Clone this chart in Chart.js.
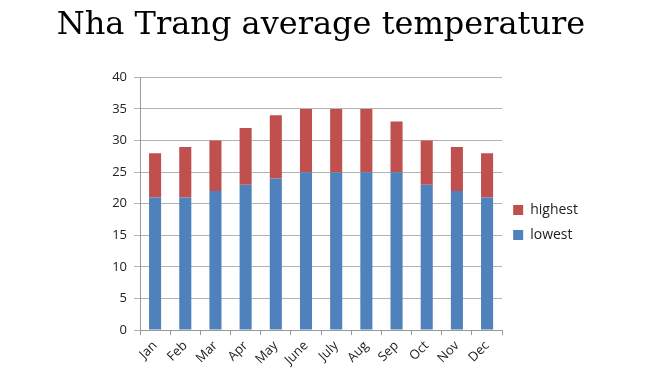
<!DOCTYPE html>
<html>
<head>
<meta charset="utf-8">
<script src="https://cdn.jsdelivr.net/npm/chart.js@4"></script>
<style>
  html, body { margin: 0; padding: 0; background: #fff; }
  #wrap { width: 653px; height: 374px; }
</style>
</head>
<body>
<div id="wrap"><canvas id="tempChart" width="653" height="374"></canvas></div>
<script>
// data
const months = ['Jan', 'Feb', 'Mar', 'Apr', 'May', 'June', 'July', 'Aug', 'Sep', 'Oct', 'Nov', 'Dec'];
const lowest = [21, 21, 22, 23, 24, 25, 25, 25, 25, 23, 22, 21];
// stacked on top of lowest (highest - lowest)
const highest = [7, 8, 8, 9, 10, 10, 10, 10, 8, 7, 7, 7];
const yTicks = [0, 5, 10, 15, 20, 25, 30, 35, 40];

const axisFont = { family: "'Open Sans', 'Liberation Sans', sans-serif", size: 13 };

// push the legend down a bit, like the original
const legendShift = {
    id: 'legendShift',
    afterLayout(chart) {
        chart.legend.top += 34;
        chart.legend.bottom += 34;
    }
};

const ctx = document.getElementById('tempChart').getContext('2d');
new Chart(ctx, {
    type: 'bar',
    data: {
        labels: months,
        datasets: [{
            label: 'lowest',
            data: lowest,
            backgroundColor: '#4F81BD',
            categoryPercentage: 1,
            barPercentage: 0.4
        }, {
            label: 'highest',
            data: highest,
            backgroundColor: '#C0504D',
            categoryPercentage: 1,
            barPercentage: 0.4
        }]
    },
    options: {
        responsive: false,
        animation: false,
        layout: {
            padding: { left: 54, right: 65, top: 6, bottom: 3 }
        },
        plugins: {
            title: {
                display: true,
                text: 'Nha Trang average temperature',
                color: '#000',
                font: { family: "'DejaVu Serif', serif", size: 32, weight: 'normal' },
                padding: { top: 0, bottom: 33 }
            },
            legend: {
                position: 'right',
                reverse: true,
                labels: {
                    color: '#222',
                    boxWidth: 10,
                    boxHeight: 10,
                    padding: 11,
                    font: { family: "'Open Sans', 'Liberation Sans', sans-serif", size: 14 }
                }
            },
            tooltip: { enabled: false }
        },
        scales: {
            x: {
                stacked: true,
                grid: {
                    display: true,
                    drawOnChartArea: false,
                    offset: true,
                    color: '#999',
                    tickLength: 5
                },
                border: { color: '#999' },
                ticks: {
                    color: '#222',
                    font: axisFont,
                    minRotation: 45,
                    maxRotation: 45
                }
            },
            y: {
                stacked: true,
                min: 0,
                max: 40,
                afterBuildTicks: axis => { axis.ticks = yTicks.map(v => ({ value: v })); },
                afterFit: axis => { axis.width = 86; },
                grid: {
                    color: '#b3b3b3',
                    tickLength: 6
                },
                border: { color: '#999' },
                ticks: {
                    color: '#222',
                    font: axisFont,
                    padding: 7
                }
            }
        }
    },
    plugins: [legendShift]
});
</script>
</body>
</html>
